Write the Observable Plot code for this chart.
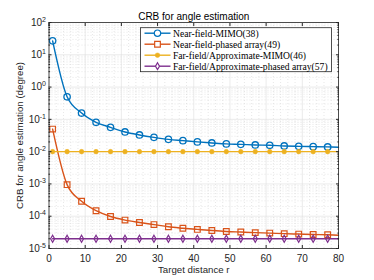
<!DOCTYPE html>
<html><head><meta charset="utf-8">
<script src="https://cdn.jsdelivr.net/npm/d3@7"></script>
<script src="https://cdn.jsdelivr.net/npm/@observablehq/plot@0.6"></script>
<style>body{margin:0;background:#fff} #chart{width:374px;height:280px}</style>
</head><body><div id="chart"></div>
<script>
// ---- data ----
const distance = [1,5,9,13,17,21,25,29,33,37,41,45,49,53,57,61,65,69,73,77,80];
const markerDistance = [1,5,9,13,17,21,25,29,33,37,41,45,49,53,57,61,65,69,73,77];
const seriesNames = ["Near-field-MIMO(38)","Near-field-phased array(49)","Far-field/Approximate-MIMO(46)","Far-field/Approximate-phased array(57)"];
const nearMIMO   = [27, 0.50, 0.157, 0.081, 0.0565, 0.0407, 0.0329, 0.0277, 0.0240, 0.0219, 0.0200, 0.0186, 0.0174, 0.0168, 0.0161, 0.0157, 0.0150, 0.0146, 0.0143, 0.0140, 0.0137];
const nearPhased = [0.050, 0.00095, 0.00029, 0.000148, 0.000098, 7.6e-5, 6.4e-5, 5.5e-5, 4.7e-5, 4.25e-5, 3.9e-5, 3.6e-5, 3.37e-5, 3.23e-5, 3.1e-5, 3.0e-5, 2.88e-5, 2.8e-5, 2.72e-5, 2.66e-5, 2.58e-5];
const farMIMO    = [0.01,0.01,0.01,0.01,0.01,0.01,0.01,0.01,0.01,0.01,0.01,0.01,0.01,0.01,0.01,0.01,0.01,0.01,0.01,0.01,0.01];
const farPhased  = [2e-5,2e-5,2e-5,2e-5,2e-5,2e-5,2e-5,2e-5,2e-5,2e-5,2e-5,2e-5,2e-5,2e-5,2e-5,2e-5,2e-5,2e-5,2e-5,2e-5,2e-5];
const xTicks = [0,10,20,30,40,50,60,70,80];
const yTicks = [1e-5,1e-4,1e-3,1e-2,1e-1,1,10,100];
const xMinorTicks = d3.range(0, 81, 2).filter(v => v % 10 !== 0);
const yMinorTicks = yTicks.slice(0, -1).flatMap(p => d3.range(2, 10).map(k => k * p));
const titleText = "CRB for angle estimation";
const xLabel = "Target distance r";
const yLabel = "CRB for angle estimation (degree)";

const colors = ["#0072BD","#D95319","#EDB120","#7E2F8E"];
const symbols = ["circle","square","circle","diamond"];
const allValues = [nearMIMO, nearPhased, farMIMO, farPhased];

const lineData = allValues.flatMap((vals, s) => distance.map((r, i) => ({r, v: vals[i], s: seriesNames[s]})));
const dotData = allValues.flatMap((vals, s) => markerDistance.map((r, i) => ({r, v: vals[i], s: seriesNames[s]})));

const axisColor = "#262626";
const font = "Liberation Sans, Arial, sans-serif";

const chart = Plot.plot({
  width: 374, height: 280,
  marginLeft: 48.5, marginRight: 36, marginTop: 22, marginBottom: 32,
  style: {fontFamily: font, fontSize: "10px", color: axisColor, background: "#fff"},
  x: {domain: [0, 80]},
  y: {type: "log", domain: [1e-5, 100]},
  color: {domain: seriesNames, range: colors},
  marks: [
    Plot.gridX(xMinorTicks, {stroke: "#cfcfcf", strokeOpacity: 1, strokeDasharray: "1,2", strokeWidth: 0.5}),
    Plot.gridY(yMinorTicks, {stroke: "#cfcfcf", strokeOpacity: 1, strokeDasharray: "1,2", strokeWidth: 0.5}),
    Plot.gridX(xTicks, {stroke: "#dedede", strokeOpacity: 1, strokeWidth: 0.6}),
    Plot.gridY(yTicks, {stroke: "#dedede", strokeOpacity: 1, strokeWidth: 0.6}),
    Plot.line(lineData, {x: "r", y: "v", z: "s", stroke: d => d.s, strokeWidth: 1.4, curve: "monotone-x"}),
    Plot.dot(dotData.filter(d => d.s === seriesNames[0]), {x: "r", y: "v", symbol: "circle", r: 3.2, stroke: colors[0], strokeWidth: 1.3, fill: "none"}),
    Plot.dot(dotData.filter(d => d.s === seriesNames[1]), {x: "r", y: "v", symbol: "square", r: 3.2, stroke: colors[1], strokeWidth: 1.2, fill: "none"}),
    Plot.dot(dotData.filter(d => d.s === seriesNames[2]), {x: "r", y: "v", symbol: "circle", r: 2.3, stroke: colors[2], strokeWidth: 0.5, fill: colors[2]}),
    Plot.dot(dotData.filter(d => d.s === seriesNames[3]), {x: "r", y: "v", symbol: "diamond", r: 2.1, stroke: colors[3], strokeWidth: 1.2, fill: "none"}),
    Plot.frame({stroke: axisColor, strokeOpacity: 1, strokeWidth: 0.8}),
    // inward ticks
    Plot.axisX(xTicks, {anchor: "bottom", tickSize: -3, tickFormat: () => "", stroke: axisColor, label: null}),
    Plot.axisX(xTicks, {anchor: "top", tickSize: -3, tickFormat: () => "", stroke: axisColor, label: null}),
    Plot.axisY(yTicks, {anchor: "left", tickSize: -3, tickFormat: () => "", stroke: axisColor, label: null}),
    Plot.axisY(yTicks, {anchor: "right", tickSize: -3, tickFormat: () => "", stroke: axisColor, label: null}),
    Plot.axisY(yMinorTicks, {anchor: "left", tickSize: -1.6, tickFormat: () => "", stroke: axisColor, label: null}),
    Plot.axisY(yMinorTicks, {anchor: "right", tickSize: -1.6, tickFormat: () => "", stroke: axisColor, label: null}),
    // labels
    Plot.axisX(xTicks, {anchor: "bottom", tickSize: 0, tickPadding: 6, label: null, fill: axisColor, fontSize: 10}),
    Plot.axisY(yTicks, {anchor: "left", tickSize: 0, tickPadding: 3, label: null, fill: axisColor, fontSize: 10,
      tickFormat: d => String(Math.round(Math.log10(d)))}),
    Plot.text([titleText], {frameAnchor: "top", dy: -10, fontSize: 10, fill: "#000"}),
    Plot.text([xLabel], {frameAnchor: "bottom", dy: 24, fontSize: 9.7, fill: axisColor}),
    Plot.text([yLabel], {frameAnchor: "left", textAnchor: "middle", dx: -29, rotate: -90, fontSize: 9.7, fill: axisColor})
  ]
});
document.getElementById("chart").appendChild(chart);

// superscript exponents on y tick labels
const svg = d3.select(chart);
svg.selectAll('g[aria-label="y-axis tick label"] text').each(function() {
  const t = d3.select(this);
  const e = t.text();
  if (e === "") return;
  t.text("10");
  t.append("tspan").attr("dy", "-4").attr("font-size", "7px").text(e.replace("\u2212", "-"));
});

// legend
const lg = svg.append("g").attr("class", "legend").attr("text-anchor", "start");
const lx = 140.5, ly = 27.7, lw = 191, lh = 44, rowH = 11;
lg.append("rect").attr("x", lx).attr("y", ly).attr("width", lw).attr("height", lh)
  .attr("fill", "#fff").attr("stroke", axisColor).attr("stroke-width", 0.8);
const markerSizes = [3.2, 3.2, 2.3, 2.1];
seriesNames.forEach((name, i) => {
  const cy = ly + rowH * (i + 0.5);
  lg.append("line").attr("x1", lx + 4).attr("x2", lx + 30).attr("y1", cy).attr("y2", cy)
    .attr("stroke", colors[i]).attr("stroke-width", 1.4);
  const symType = {circle: d3.symbolCircle, square: d3.symbolSquare, diamond: d3.symbolDiamond}[symbols[i]];
  lg.append("path").attr("transform", `translate(${lx + 17},${cy})`)
    .attr("d", d3.symbol(symType, Math.PI * markerSizes[i] ** 2)())
    .attr("fill", i === 2 ? colors[i] : "#fff").attr("stroke", colors[i]).attr("stroke-width", i === 2 ? 0.5 : 1.2);
  lg.append("text").attr("x", lx + 32.5).attr("y", cy).attr("dy", "0.35em")
    .attr("text-anchor", "start")
    .attr("font-family", "Liberation Serif, Times New Roman, serif").attr("font-size", "9.6px")
    .attr("fill", "#000").text(name);
});
</script>
</body></html>
